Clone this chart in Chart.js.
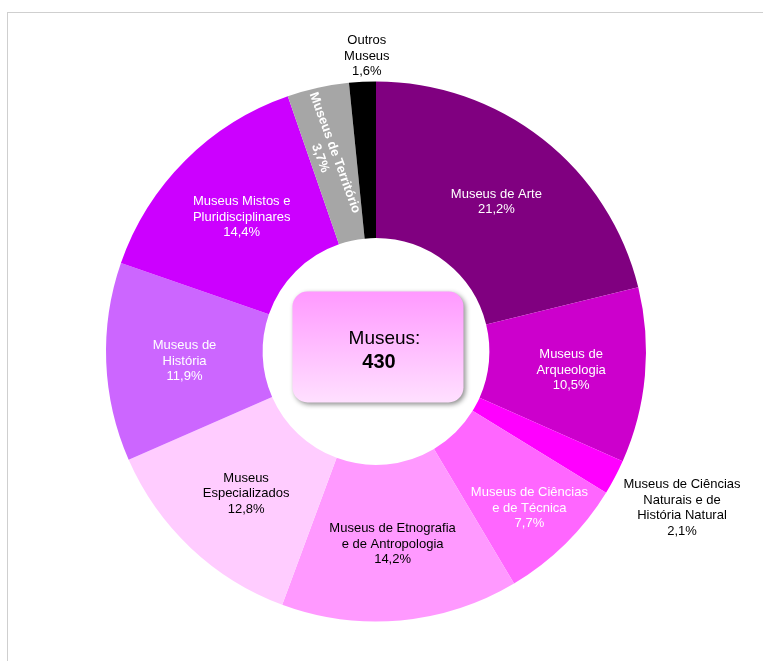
<!DOCTYPE html>
<html lang="pt">
<head>
<meta charset="utf-8">
<title>Museus por tipologia</title>
<script src="https://cdn.jsdelivr.net/npm/chart.js@4.4.1/dist/chart.umd.min.js"></script>
<style>
    html, body { margin: 0; padding: 0; background: #fff; }
    #wrap { width: 763px; height: 661px; }
</style>
</head>
<body>
<div id="wrap"><canvas id="museus-chart" width="763" height="661"></canvas></div>
<script>
// Museus por tipologia - total 430

const categories = [
    'Museus de Arte',
    'Museus de Arqueologia',
    'Museus de Ciências Naturais e de História Natural',
    'Museus de Ciências e de Técnica',
    'Museus de Etnografia e de Antropologia',
    'Museus Especializados',
    'Museus de História',
    'Museus Mistos e Pluridisciplinares',
    'Museus de Território',
    'Outros Museus'
];

// how each name is broken on the chart
const labelLines = [
    ['Museus de Arte'],
    ['Museus de', 'Arqueologia'],
    ['Museus de Ciências', 'Naturais e de', 'História Natural'],
    ['Museus de Ciências', 'e de Técnica'],
    ['Museus de Etnografia', 'e de Antropologia'],
    ['Museus', 'Especializados'],
    ['Museus de', 'História'],
    ['Museus Mistos e', 'Pluridisciplinares'],
    ['Museus de Território'],
    ['Outros', 'Museus']
];

const shares = [21.2, 10.5, 2.1, 7.7, 14.2, 12.8, 11.9, 14.4, 3.7, 1.6];
const totalMuseus = 430;

const sliceColors = [
    '#800080', '#CC00CC', '#FF00FF', '#FF66FF', '#FF99FF',
    '#FFCCFF', '#CC66FF', '#CC00FF', '#A6A6A6', '#000000'
];
const textColors = [
    '#ffffff', '#ffffff', '#000000', '#ffffff', '#000000',
    '#000000', '#ffffff', '#ffffff', '#ffffff', '#000000'
];

// label placement: distance from centre (fraction of outer radius),
// small angle nudge in degrees, text rotation in degrees
const labelRadius = [0.711, 0.726, 1.273, 0.812, 0.717, 0.713, 0.71, 0.704, 0.748, 1.095];
const labelNudge = [0.7, 0.4, -0.7, 0.2, 0.3, -0.9, -0.7, 0, -1.5, 1.1];
const labelRotation = [0, 0, 0, 0, 0, 0, 0, 0, 70, 0];
const labelBold = [false, false, false, false, false, false, false, false, true, false];

const FONT = '"Liberation Sans", Arial, sans-serif';

function pct(v) {
    return v.toFixed(1).replace('.', ',') + '%';
}

// light frame around the picture
const framePlugin = {
    id: 'frame',
    beforeDraw(chart) {
        const ctx = chart.ctx;
        ctx.save();
        ctx.strokeStyle = '#cfcfcf';
        ctx.lineWidth = 1;
        ctx.strokeRect(7.5, 12.5, chart.width + 20, chart.height + 20);
        ctx.restore();
    }
};

// slice labels
const sliceLabels = {
    id: 'sliceLabels',
    afterDatasetsDraw(chart) {
        const ctx = chart.ctx;
        const arcs = chart.getDatasetMeta(0).data;
        const lineH = 15.5;
        ctx.save();
        ctx.textAlign = 'center';
        ctx.textBaseline = 'middle';
        arcs.forEach((arc, i) => {
            const p = arc.getProps(['x', 'y', 'startAngle', 'endAngle', 'outerRadius'], true);
            const a = (p.startAngle + p.endAngle) / 2 + labelNudge[i] * Math.PI / 180;
            const r = p.outerRadius * labelRadius[i];
            const lines = labelLines[i].concat([pct(shares[i])]);
            ctx.save();
            ctx.font = (labelBold[i] ? 'bold ' : '') + '13px ' + FONT;
            ctx.translate(p.x + r * Math.cos(a), p.y + r * Math.sin(a));
            ctx.rotate(labelRotation[i] * Math.PI / 180);
            ctx.fillStyle = textColors[i];
            const h = (lines.length - 1) * lineH;
            lines.forEach((t, k) => {
                ctx.fillText(t, 0, -h / 2 + k * lineH);
            });
            ctx.restore();
        });
        ctx.restore();
    }
};

// rounded box with the total in the hole
const centerBox = {
    id: 'centerBox',
    afterDraw(chart) {
        const ctx = chart.ctx;
        const arc = chart.getDatasetMeta(0).data[0];
        const cx = arc.x, cy = arc.y;
        const x = cx - 83.5, y = cy - 60, w = 171, h = 111;
        ctx.save();
        ctx.shadowColor = 'rgba(0,0,0,0.45)';
        ctx.shadowBlur = 5;
        ctx.shadowOffsetX = 2;
        ctx.shadowOffsetY = 2;
        const g = ctx.createLinearGradient(0, y, 0, y + h);
        g.addColorStop(0, '#ff99ff');
        g.addColorStop(1, '#ffe0ff');
        ctx.fillStyle = g;
        ctx.beginPath();
        ctx.roundRect(x, y, w, h, 15);
        ctx.fill();
        ctx.restore();

        ctx.save();
        ctx.fillStyle = '#000';
        ctx.textAlign = 'center';
        ctx.textBaseline = 'alphabetic';
        ctx.font = '19px ' + FONT;
        ctx.fillText('Museus:', cx + 8.5, cy - 8);
        ctx.font = 'bold 20px ' + FONT;
        ctx.fillText(String(totalMuseus), cx + 3, cy + 16);
        ctx.restore();
    }
};

new Chart(document.getElementById('museus-chart'), {
    type: 'doughnut',
    data: {
        labels: categories,
        datasets: [{
            data: shares,
            backgroundColor: sliceColors,
            borderWidth: 0,
            hoverOffset: 0
        }]
    },
    options: {
        responsive: false,
        animation: false,
        cutout: '42%',
        layout: {
            padding: { left: 106, right: 117, top: 81, bottom: 39 }
        },
        plugins: {
            legend: { display: false },
            tooltip: { enabled: false }
        }
    },
    plugins: [framePlugin, sliceLabels, centerBox]
});
</script>
</body>
</html>
